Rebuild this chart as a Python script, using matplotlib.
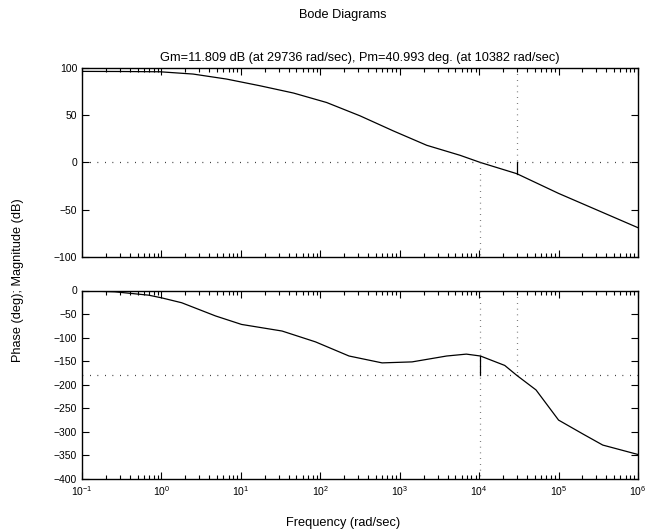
import numpy as np
import matplotlib
matplotlib.use("Agg")
import matplotlib.pyplot as plt
from matplotlib.ticker import LogLocator, NullFormatter

plt.rcParams['font.family'] = ['Liberation Sans', 'DejaVu Sans']
plt.rcParams['mathtext.fontset'] = 'custom'
plt.rcParams['mathtext.rm'] = 'Liberation Sans'

# Magnitude response (rad/sec, dB)
mag_freq = [0.1, 0.3, 0.96, 2.5, 6.6, 17.4, 46.0, 120.0, 316.0, 832.0, 2190.0, 5760.0,
            10382.0, 29736.0, 100000.0, 1000000.0]
mag_db = [96.4, 96.3, 96.0, 93.6, 88.3, 81.2, 73.5, 63.5, 49.4, 33.4, 18.2, 7.6,
          0.0, -11.809, -32.7, -69.0]

# Phase response (rad/sec, deg)
ph_freq = [0.1, 0.26, 0.69, 1.0, 1.8, 4.8, 10.2, 33.0, 87.0, 230.0, 600.0, 1430.0, 3900.0, 6900.0,
           10382.0, 21000.0, 29736.0, 52000.0, 100000.0, 205000.0, 360000.0, 1000000.0]
ph_deg = [-0.5, -2.8, -9.9, -15.5, -26, -54, -72, -86, -109, -139, -153.6, -151.5, -139, -135,
          -139.007, -159, -180, -211, -275, -305, -328, -348]

# Margins
gm_db = 11.809
wgm = 29736.0
pm_deg = 40.993
wpm = 10382.0

fig = plt.figure(figsize=(6.45, 5.32), dpi=100)
W, H = 645.0, 532.0
left, right = 82.0 / W, 638.0 / W
ax1 = fig.add_axes([left, 1 - 257.0 / H, right - left, (257.0 - 68.0) / H])
ax2 = fig.add_axes([left, 1 - 479.0 / H, right - left, (479.0 - 290.5) / H])

dot = dict(color='black', linestyle=(0, (0.6, 5.4)), linewidth=0.9)
vdot = dict(color='#555555', linestyle=(0, (0.6, 4.0)), linewidth=0.9)

# magnitude
ax1.semilogx(mag_freq, mag_db, color='black', linewidth=0.9)
ax1.plot([0.1, 1e6], [0, 0], **dot)
ax1.plot([wpm, wpm], [0, -100], **vdot)
ax1.plot([wgm, wgm], [100, 0], **vdot)
ax1.plot([wgm, wgm], [0, -gm_db], color='black', linewidth=0.9)
ax1.set_ylim(-100, 100)
ax1.set_yticks([-100, -50, 0, 50, 100])
ax1.set_title('Gm=11.809 dB (at 29736 rad/sec), Pm=40.993 deg. (at 10382 rad/sec)',
              fontsize=9.2, pad=5)

# phase
ax2.semilogx(ph_freq, ph_deg, color='black', linewidth=0.9)
ax2.plot([0.1, 1e6], [-180, -180], **dot)
ax2.plot([wgm, wgm], [0, -180], **vdot)
ax2.plot([wpm, wpm], [0, -400], **vdot)
ax2.plot([wpm, wpm], [-180, -180 + pm_deg], color='black', linewidth=0.9)
ax2.set_ylim(-400, 0)
ax2.set_yticks(list(range(-400, 1, 50)))

for ax in (ax1, ax2):
    ax.set_xscale('log')
    ax.set_xlim(0.1, 1e6)
    ax.xaxis.set_major_locator(LogLocator(base=10, numticks=20))
    ax.xaxis.set_minor_locator(LogLocator(base=10, subs=np.arange(2, 10), numticks=20))
    ax.xaxis.set_minor_formatter(NullFormatter())
    ax.tick_params(which='both', direction='in', top=True, right=True, labelsize=7.5, width=0.8)
    ax.tick_params(which='major', length=5)
    ax.tick_params(which='minor', length=3)
    for s in ax.spines.values():
        s.set_linewidth(1.0)
ax1.xaxis.set_major_formatter(NullFormatter())

fig.text(343.0 / W, 1 - 15.0 / H, 'Bode Diagrams', ha='center', va='center', fontsize=9.2)
fig.text(343.0 / W, 1 - 523.0 / H, 'Frequency (rad/sec)', ha='center', va='center', fontsize=9.2)
fig.text(18.0 / W, 1 - 280.0 / H, 'Phase (deg); Magnitude (dB)', ha='center', va='center',
         rotation=90, fontsize=9.2)

fig.savefig('out.png', dpi=100)
